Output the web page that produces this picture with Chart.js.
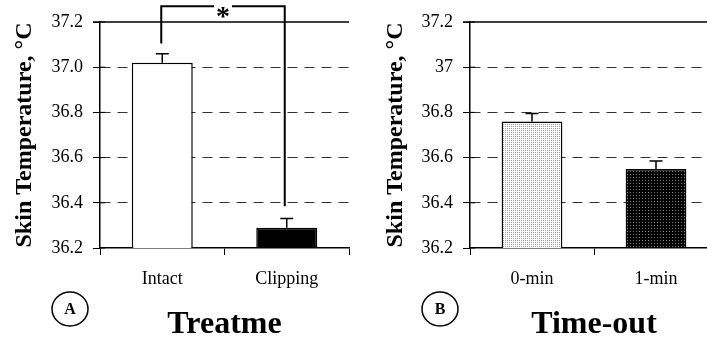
<!DOCTYPE html>
<html>
<head>
<meta charset="utf-8">
<script src="https://cdn.jsdelivr.net/npm/chart.js@4.4.0/dist/chart.umd.min.js"></script>
<style>
  html, body { margin: 0; padding: 0; background: #fff; }
  body { width: 707px; height: 339px; position: relative; overflow: hidden; }
  #chartA { position: absolute; left: 0; top: 0; }
  #chartB { position: absolute; left: 357px; top: 0; }
</style>
</head>
<body>
<canvas id="chartA" width="357" height="339"></canvas>
<canvas id="chartB" width="370" height="339"></canvas>
<script>
// data
const treatLabels = ['Intact', 'Clipping'];
const treatMeans = [37.02, 36.29];
const treatErrors = [0.04, 0.04];

const timeLabels = ['0-min', '1-min'];
const timeMeans = [36.76, 36.55];
const timeErrors = [0.035, 0.035];

const yTickTextA = ['36.2', '36.4', '36.6', '36.8', '37.0', '37.2'];
const yTickTextB = ['36.2', '36.4', '36.6', '36.8', '37', '37.2'];

// significance bracket (values on the y axis)
const bracketA = { leftEnd: 37.105, top: 37.27, rightEnd: 36.385 };

const serif = 'Liberation Serif, Times New Roman, serif';

function dotPattern(bg, dot, step) {
  const c = document.createElement('canvas');
  c.width = step; c.height = step;
  const g = c.getContext('2d');
  g.fillStyle = bg; g.fillRect(0, 0, step, step);
  g.fillStyle = dot; g.fillRect(0, 0, 1, 1);
  return g.createPattern(c, 'repeat');
}

// error bars (upper half only, bar hides the rest)
const errorBars = {
  id: 'errorBars',
  afterDatasetsDraw(chart, args, opts) {
    const ctx = chart.ctx;
    const y = chart.scales.y;
    const meta = chart.getDatasetMeta(0);
    const data = chart.data.datasets[0].data;
    ctx.save();
    ctx.strokeStyle = '#000';
    ctx.lineWidth = 1.5;
    meta.data.forEach((bar, i) => {
      const top = y.getPixelForValue(data[i] + opts.errors[i]);
      ctx.beginPath();
      ctx.moveTo(bar.x, bar.y);
      ctx.lineTo(bar.x, top);
      ctx.moveTo(bar.x - 6.5, top);
      ctx.lineTo(bar.x + 6.5, top);
      ctx.stroke();
    });
    ctx.restore();
  }
};

// solid top line, inner tick stubs and the circled panel letter
const frame = {
  id: 'frame',
  afterDraw(chart, args, opts) {
    const ctx = chart.ctx;
    const a = chart.chartArea;
    const y = chart.scales.y;
    ctx.save();
    ctx.strokeStyle = '#000';
    ctx.lineWidth = 1.5;
    ctx.beginPath();
    ctx.moveTo(a.left - 7, a.top);
    ctx.lineTo(a.right, a.top);
    ctx.stroke();
    ctx.lineWidth = 1;
    y.ticks.forEach(t => {
      const py = y.getPixelForValue(t.value);
      ctx.beginPath();
      ctx.moveTo(a.left, py);
      ctx.lineTo(a.left + 5, py);
      ctx.stroke();
    });
    // circled letter
    ctx.lineWidth = 1.5;
    ctx.beginPath();
    ctx.ellipse(a.left - 30, 309, 18, 17, 0, 0, Math.PI * 2);
    ctx.stroke();
    ctx.fillStyle = '#000';
    ctx.font = 'bold 16px ' + serif;
    ctx.textAlign = 'center';
    ctx.textBaseline = 'middle';
    ctx.fillText(opts.letter, a.left - 30, 310);
    ctx.restore();
  }
};

const bracket = {
  id: 'bracket',
  afterDraw(chart, args, opts) {
    if (!opts.show) return;
    const ctx = chart.ctx;
    const x = chart.scales.x;
    const y = chart.scales.y;
    const x1 = x.getPixelForValue(0) - 1;
    const x2 = x.getPixelForValue(1) - 2;
    const yTop = y.getPixelForValue(bracketA.top);
    const mid = (x1 + x2) / 2;
    ctx.save();
    ctx.strokeStyle = '#000';
    ctx.lineWidth = 2;
    ctx.beginPath();
    ctx.moveTo(x1, y.getPixelForValue(bracketA.leftEnd));
    ctx.lineTo(x1, yTop);
    ctx.lineTo(x2, yTop);
    ctx.lineTo(x2, y.getPixelForValue(bracketA.rightEnd));
    ctx.stroke();
    ctx.fillStyle = '#fff';
    ctx.fillRect(mid - 9, yTop - 3, 18, 6);
    ctx.fillStyle = '#000';
    ctx.font = 'bold 28px ' + serif;
    ctx.textAlign = 'center';
    ctx.textBaseline = 'alphabetic';
    ctx.fillText('*', mid, yTop + 19);
    ctx.restore();
  }
};

function makeChart(id, labels, means, errors, tickText, fills, xTitle, letter, pad, yWidth, showBracket) {
  return new Chart(document.getElementById(id), {
    type: 'bar',
    data: {
      labels: labels,
      datasets: [{
        data: means,
        backgroundColor: fills,
        borderColor: '#000',
        borderWidth: 1.5,
        borderSkipped: 'bottom',
        categoryPercentage: 1,
        barPercentage: 0.49
      }]
    },
    options: {
      responsive: false,
      animation: false,
      devicePixelRatio: 1,
      layout: { padding: pad },
      plugins: {
        legend: { display: false },
        tooltip: { enabled: false },
        errorBars: { errors: errors },
        frame: { letter: letter },
        bracket: { show: showBracket }
      },
      scales: {
        x: {
          grid: { drawOnChartArea: false, drawTicks: true, tickLength: 7, tickColor: '#000', offset: true },
          border: { color: '#000', width: 1.5 },
          ticks: { color: '#000', font: { family: serif, size: 18 }, padding: 13 },
          title: {
            display: true, text: xTitle, color: '#000',
            font: { family: serif, size: 32, weight: 'bold' }, padding: { top: 0, bottom: -5 }
          },
          afterFit(scale) { scale.height = 91; }
        },
        y: {
          min: 36.2,
          max: 37.2,
          ticks: {
            stepSize: 0.2,
            color: '#000',
            font: { family: serif, size: 18 },
            padding: 10,
            callback: (v, i) => tickText[i]
          },
          grid: {
            color: c => (c.index === 0 || c.index === tickText.length - 1) ? 'rgba(0,0,0,0)' : '#333',
            tickColor: '#000',
            tickLength: 7,
            lineWidth: 1
          },
          border: { color: '#000', width: 1.5, dash: [10, 7] },
          title: {
            display: true, text: 'Skin Temperature, °C', color: '#000',
            font: { family: serif, size: 24, weight: 'bold' }, padding: { top: 10, bottom: 0 }
          },
          afterFit(scale) { scale.width = yWidth; }
        }
      }
    },
    plugins: [errorBars, frame, bracket]
  });
}

makeChart('chartA', treatLabels, treatMeans, treatErrors, yTickTextA,
  ['#fff', '#000'], 'Treatme', 'A',
  { left: 0, top: 22, right: 8, bottom: 0 }, 100, true);

makeChart('chartB', timeLabels, timeMeans, timeErrors, yTickTextB,
  [dotPattern('#fff', '#9a9a9a', 2), dotPattern('#000', '#777', 3)], 'Time-out', 'B',
  { left: 14, top: 22, right: 9, bottom: 0 }, 99, false);
</script>
</body>
</html>
